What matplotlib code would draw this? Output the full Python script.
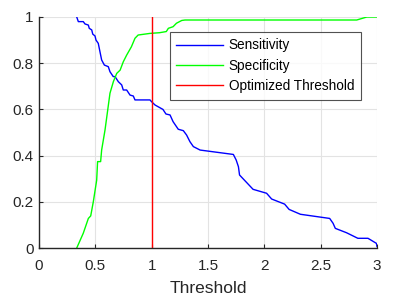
import matplotlib
matplotlib.use("Agg")
import matplotlib.pyplot as plt

sens_x = [0.335, 0.349, 0.393, 0.408, 0.438, 0.446, 0.468, 0.477, 0.497, 0.506, 0.526, 0.541, 0.556,
          0.580, 0.615, 0.630, 0.659, 0.675, 0.704, 0.734, 0.748, 0.778, 0.808, 0.837, 0.852, 0.985,
          1.00, 1.03, 1.10, 1.127, 1.163, 1.19, 1.236, 1.281, 1.31, 1.34, 1.37, 1.43, 1.725, 1.75,
          1.77, 1.78, 1.90, 2.02, 2.065, 2.18, 2.22, 2.32, 2.58, 2.61, 2.63, 2.73, 2.83, 2.92, 2.995, 3.0]
sens_y = [1.0, 0.980, 0.980, 0.970, 0.965, 0.951, 0.944, 0.926, 0.918, 0.900, 0.886, 0.850, 0.814,
          0.792, 0.785, 0.763, 0.742, 0.742, 0.720, 0.706, 0.684, 0.684, 0.662, 0.658, 0.641, 0.641,
          0.633, 0.619, 0.600, 0.580, 0.576, 0.547, 0.514, 0.508, 0.489, 0.460, 0.439, 0.424, 0.405, 0.381,
          0.352, 0.316, 0.254, 0.237, 0.212, 0.190, 0.167, 0.146, 0.128, 0.107, 0.085, 0.066, 0.042, 0.042, 0.020, 0.006]

spec_x = [0.335, 0.393, 0.438, 0.459, 0.482, 0.512, 0.52, 0.547, 0.556, 0.586, 0.63, 0.66, 0.69, 0.72,
          0.748, 0.778, 0.82, 0.852, 0.88, 0.985, 1.07, 1.13, 1.148, 1.19, 1.22, 1.267, 1.296, 2.82, 2.91, 3.0]
spec_y = [0.0, 0.064, 0.128, 0.139, 0.20, 0.294, 0.374, 0.374, 0.424, 0.511, 0.67, 0.72, 0.756, 0.77,
          0.806, 0.835, 0.871, 0.908, 0.922, 0.929, 0.932, 0.937, 0.951, 0.958, 0.973, 0.985, 0.987, 0.987, 1.0, 1.0]

threshold = 1.0

plt.rcParams['font.family'] = ['Liberation Sans', 'DejaVu Sans']
fig = plt.figure(figsize=(4, 3), dpi=100)
ax = fig.add_axes([39/400, 1-248/300, (377-39)/400, (248-17)/300])

ax.plot(sens_x, sens_y, color='#0000ff', lw=1.0, label='Sensitivity')
ax.plot(spec_x, spec_y, color='#00ff00', lw=1.0, label='Specificity')
ax.axvline(threshold, color='#ff0000', lw=1.0, label='Optimized Threshold')

ax.set_xlim(0, 3)
ax.set_ylim(0, 1)
ax.set_xticks([0, 0.5, 1, 1.5, 2, 2.5, 3])
ax.set_xticklabels(['0', '0.5', '1', '1.5', '2', '2.5', '3'])
ax.set_yticks([0, 0.2, 0.4, 0.6, 0.8, 1])
ax.set_yticklabels(['0', '0.2', '0.4', '0.6', '0.8', '1'])
ax.grid(True, color='#e3e3e3', lw=0.8)
ax.set_axisbelow(True)
for s in ['top', 'right']:
    ax.spines[s].set_visible(False)
for s in ['left', 'bottom']:
    ax.spines[s].set_color('#262626')
    ax.spines[s].set_linewidth(1.0)
ax.tick_params(direction='in', length=3, labelsize=11, colors='#262626')
ax.tick_params(axis='x', pad=8)
ax.tick_params(axis='y', pad=4)
ax.set_xlabel('Threshold', fontsize=12.5, color='#262626', labelpad=6)

leg = ax.legend(loc='upper left', bbox_to_anchor=((170-39)/338, (248-32)/231), fontsize=9.8,
                handlelength=3.45, frameon=True, fancybox=False, edgecolor='#262626',
                borderpad=0.47, labelspacing=0.47, handletextpad=0.4, borderaxespad=0)
leg.get_frame().set_linewidth(0.8)
for t in leg.get_texts():
    t.set_color('#000000')

fig.savefig('out.png', dpi=100)
